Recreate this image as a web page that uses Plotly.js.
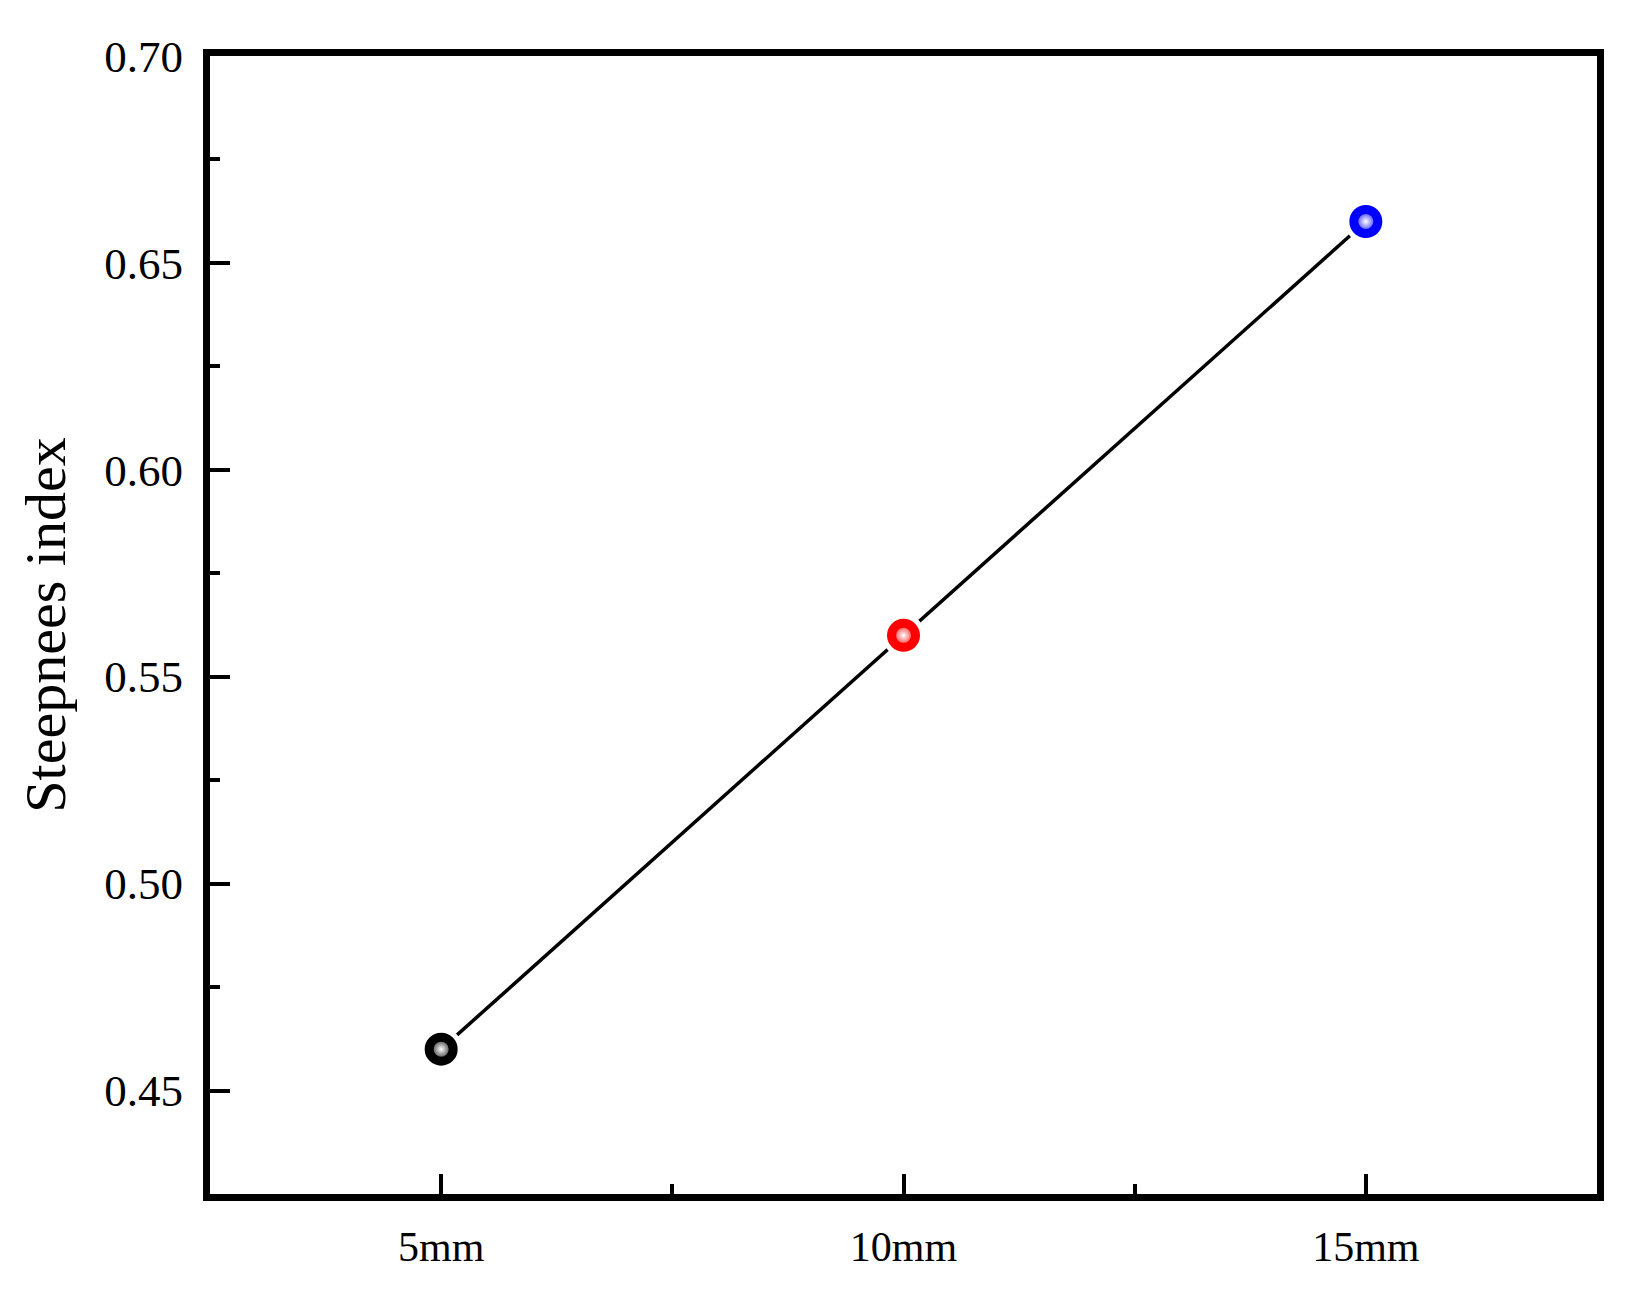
<!DOCTYPE html>
<html>
<head>
<meta charset="utf-8">
<script src="https://cdn.plot.ly/plotly-3.0.1.min.js"></script>
<style>
  html, body { margin: 0; padding: 0; background: #fff; }
  #chart { width: 1643px; height: 1291px; }
</style>
</head>
<body>
<div id="chart"></div>
<script>
// Roughness (mm) vs steepness index
const sizes = [5, 10, 15];
const steepness = [0.46, 0.56, 0.66];
const pointColors = ['#000000', '#ff0000', '#0000ff'];
const glowColors = ['#6a6a6a', '#ff6a6a', '#6a6aff'];

const font = 'Liberation Serif, Times New Roman, serif';

const lineTrace = {
  x: sizes,
  y: steepness,
  mode: 'lines+markers',
  line: { color: '#000', width: 3.5 },
  marker: {
    size: 38,
    color: pointColors,
    line: { color: '#ffffff', width: 5 },
  },
  hoverinfo: 'x+y',
  showlegend: false,
};

// small shiny spot on each ball
const glowTrace = {
  x: sizes,
  y: steepness,
  mode: 'markers',
  marker: {
    size: 15,
    color: glowColors,
    gradient: { type: 'radial', color: '#ffffff' },
    line: { width: 0 },
  },
  hoverinfo: 'skip',
  showlegend: false,
};

const layout = {
  width: 1643,
  height: 1291,
  margin: { l: 210, r: 46, t: 56, b: 97 },
  paper_bgcolor: '#fff',
  plot_bgcolor: '#fff',
  font: { family: font, color: '#000' },
  xaxis: {
    range: [2.5, 17.5],
    tick0: 0,
    dtick: 5,
    ticksuffix: 'mm',
    ticks: 'inside',
    ticklen: 20,
    tickwidth: 4,
    tickcolor: '#000',
    minor: { dtick: 2.5, tick0: 0, ticks: 'inside', ticklen: 10, tickwidth: 4, tickcolor: '#000' },
    showline: true,
    linecolor: '#000',
    linewidth: 7,
    mirror: true,
    showgrid: false,
    zeroline: false,
    tickfont: { family: font, size: 42 },
    ticklabelstandoff: 10,
  },
  yaxis: {
    range: [0.425, 0.70],
    tick0: 0,
    dtick: 0.05,
    tickformat: '.2f',
    ticks: 'inside',
    ticklen: 20,
    tickwidth: 4,
    tickcolor: '#000',
    minor: { dtick: 0.025, tick0: 0, ticks: 'inside', ticklen: 10, tickwidth: 4, tickcolor: '#000' },
    showline: true,
    linecolor: '#000',
    linewidth: 7,
    mirror: true,
    showgrid: false,
    zeroline: false,
    tickfont: { family: font, size: 45 },
    ticklabelstandoff: 11,
    title: { text: 'Steepnees index', font: { family: font, size: 58 }, standoff: 22 },
  },
};

Plotly.newPlot('chart', [lineTrace, glowTrace], layout, { displayModeBar: false, staticPlot: true });
</script>
</body>
</html>
